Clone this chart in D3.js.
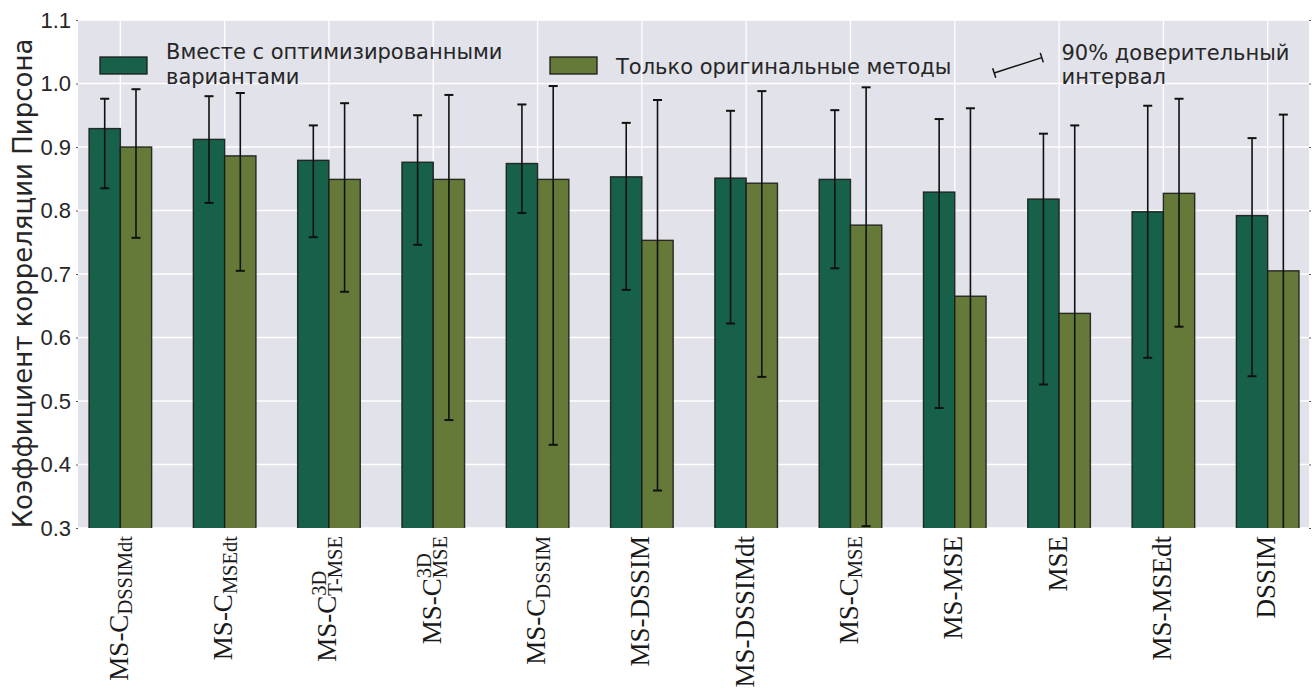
<!DOCTYPE html>
<html>
<head>
<meta charset="utf-8">
<script src="https://cdn.jsdelivr.net/npm/d3@7"></script>
<style>
  html, body { margin: 0; padding: 0; background: #ffffff; }
  svg { display: block; }
</style>
</head>
<body>
<svg id="chart" width="1315" height="693"></svg>
<script>
// Category labels: main part, superscript and subscript (rendered in serif).
const labelMain = ["MS-C", "MS-C", "MS-C", "MS-C", "MS-C", "MS-DSSIM", "MS-DSSIMdt", "MS-C", "MS-MSE", "MSE", "MS-MSEdt", "DSSIM"];
const labelSup  = ["", "", "3D", "3D", "", "", "", "", "", "", "", ""];
const labelSub  = ["DSSIMdt", "MSEdt", "T-MSE", "MSE", "DSSIM", "", "", "MSE", "", "", "", ""];

// Pearson correlation, methods together with their optimized variants
const withOpt   = [0.929, 0.912, 0.879, 0.876, 0.874, 0.853, 0.851, 0.849, 0.829, 0.818, 0.798, 0.792];
const withOptLo = [0.835, 0.812, 0.758, 0.746, 0.796, 0.675, 0.622, 0.709, 0.489, 0.526, 0.568, 0.539];
const withOptHi = [0.976, 0.980, 0.934, 0.950, 0.967, 0.938, 0.957, 0.958, 0.944, 0.921, 0.965, 0.914];

// Pearson correlation, original methods only
const origOnly  = [0.900, 0.886, 0.849, 0.849, 0.849, 0.753, 0.843, 0.777, 0.665, 0.638, 0.827, 0.705];
const origLo    = [0.757, 0.705, 0.672, 0.470, 0.431, 0.359, 0.538, 0.303, 0.270, 0.260, 0.617, 0.250];
const origHi    = [0.991, 0.985, 0.969, 0.982, 0.996, 0.974, 0.988, 0.994, 0.961, 0.934, 0.976, 0.951];

const yTicks = [0.3, 0.4, 0.5, 0.6, 0.7, 0.8, 0.9, 1.0, 1.1];

const seriesNames = ["Вместе с оптимизированными\nвариантами", "Только оригинальные методы"];
const ciLabel = "90% доверительный\nинтервал";
const yTitle = "Коэффициент корреляции Пирсона";

const colDark = "#17614a";
const colOlive = "#657a38";
const textCol = "#262626";
const sans = "'Liberation Sans', Arial, sans-serif";
const textSans = "'DejaVu Sans', sans-serif";
const serif = "'Liberation Serif', 'Times New Roman', serif";

const svg = d3.select("#chart");
const plotL = 78, plotR = 1309, plotT = 20, plotB = 528;

const idx = d3.range(labelMain.length);
const x = d3.scaleLinear().domain([-0.406, 11.396]).range([plotL, plotR]);
const y = d3.scaleLinear().domain([0.3, 1.1]).range([plotB, plotT]);
const barW = 0.3;

// plot background
svg.append("rect").attr("x", plotL).attr("y", plotT)
  .attr("width", plotR - plotL).attr("height", plotB - plotT)
  .attr("fill", "#e2e2ea");

svg.append("defs").append("clipPath").attr("id", "plotClip")
  .append("rect").attr("x", plotL).attr("y", plotT)
  .attr("width", plotR - plotL).attr("height", plotB - plotT);

// grid
const grid = svg.append("g").attr("stroke", "#ffffff").attr("stroke-width", 1.3);
grid.selectAll("line.h").data(yTicks).join("line").attr("class", "h")
  .attr("x1", plotL).attr("x2", plotR)
  .attr("y1", d => y(d)).attr("y2", d => y(d));
grid.selectAll("line.v").data(idx).join("line").attr("class", "v")
  .attr("x1", d => x(d)).attr("x2", d => x(d))
  .attr("y1", plotT).attr("y2", plotB);

const plot = svg.append("g").attr("clip-path", "url(#plotClip)");

// bars
function drawBars(vals, offset, color) {
  plot.append("g").selectAll("rect").data(idx).join("rect")
    .attr("x", i => x(i + offset))
    .attr("width", x(barW) - x(0))
    .attr("y", i => y(vals[i]))
    .attr("height", i => y(0.2) - y(vals[i]))
    .attr("fill", color)
    .attr("stroke", "#1b1b1b")
    .attr("stroke-opacity", 0.9)
    .attr("stroke-width", 1.4);
}
drawBars(withOpt, -barW, colDark);
drawBars(origOnly, 0, colOlive);

// error bars
function drawErr(lo, hi, offset) {
  const g = plot.append("g").attr("stroke", "#111").attr("stroke-width", 1.6);
  const cap = 4.5;
  idx.forEach(i => {
    const cx = x(i + offset);
    g.append("line").attr("x1", cx).attr("x2", cx).attr("y1", y(lo[i])).attr("y2", y(hi[i]));
    g.append("line").attr("x1", cx - cap).attr("x2", cx + cap).attr("y1", y(hi[i])).attr("y2", y(hi[i])).attr("stroke-width", 2);
    g.append("line").attr("x1", cx - cap).attr("x2", cx + cap).attr("y1", y(lo[i])).attr("y2", y(lo[i])).attr("stroke-width", 2);
  });
}
drawErr(withOptLo, withOptHi, -barW / 2);
drawErr(origLo, origHi, barW / 2);

// y axis (left, with labels) and small ticks on the right
const yAxis = svg.append("g").attr("transform", `translate(${plotL},0)`)
  .call(d3.axisLeft(y).tickValues(yTicks).tickFormat(d3.format(".1f")).tickSize(2).tickPadding(5));
yAxis.select(".domain").remove();
yAxis.selectAll(".tick line").attr("stroke", "#555").attr("stroke-width", 1);
yAxis.selectAll(".tick text").attr("fill", textCol).attr("font-family", sans).attr("font-size", 22);

const yAxisR = svg.append("g").attr("transform", `translate(${plotR},0)`)
  .call(d3.axisRight(y).tickValues(yTicks).tickFormat("").tickSize(2));
yAxisR.select(".domain").remove();
yAxisR.selectAll(".tick line").attr("stroke", "#555").attr("stroke-width", 1);

// y title
svg.append("text")
  .attr("transform", `translate(32,283.5) rotate(-90)`)
  .attr("text-anchor", "middle")
  .attr("font-family", textSans).attr("font-size", 26)
  .attr("fill", textCol)
  .text(yTitle);

// x category labels, rotated, with sub/superscripts
const mainSize = 27, smallSize = 20.5;
idx.forEach(i => {
  const outer = svg.append("g").attr("transform", `translate(${x(i)},${536}) rotate(-90)`);
  const inner = outer.append("g");
  const t = inner.append("text").attr("x", 0).attr("y", 0)
    .attr("font-family", serif).attr("font-size", mainSize).attr("fill", "#1a1a1a")
    .text(labelMain[i]);
  const w = t.node().getComputedTextLength();
  let extra = 0;
  const both = labelSup[i] && labelSub[i];
  if (labelSup[i]) {
    const s = inner.append("text").attr("x", w).attr("y", -10)
      .attr("font-family", serif).attr("font-size", smallSize).attr("fill", "#1a1a1a")
      .text(labelSup[i]);
    extra = Math.max(extra, s.node().getComputedTextLength());
  }
  if (labelSub[i]) {
    const s = inner.append("text").attr("x", w).attr("y", both ? 6 : 4.5)
      .attr("font-family", serif).attr("font-size", smallSize).attr("fill", "#1a1a1a")
      .text(labelSub[i]);
    extra = Math.max(extra, s.node().getComputedTextLength());
  }
  inner.attr("transform", `translate(${-(w + extra)},7.5)`);
});

// legend
function legendEntry(px, color, label) {
  svg.append("rect").attr("x", px).attr("y", 57).attr("width", 47).attr("height", 17)
    .attr("fill", color).attr("stroke", "#1b1b1b").attr("stroke-width", 1.3);
  const lines = label.split("\n");
  const t = svg.append("text").attr("font-family", textSans).attr("font-size", 21).attr("fill", textCol);
  lines.forEach((ln, k) => {
    t.append("tspan").attr("x", px + 66)
      .attr("y", lines.length > 1 ? 58.5 + k * 25 : 73.5)
      .text(ln);
  });
}
legendEntry(100, colDark, seriesNames[0]);
legendEntry(550, colOlive, seriesNames[1]);

// confidence interval legend symbol
const ci = svg.append("g").attr("transform", "translate(1018,65.3) rotate(-17.9)")
  .attr("stroke", "#111").attr("stroke-width", 1.5);
ci.append("line").attr("x1", -25).attr("x2", 25).attr("y1", 0).attr("y2", 0);
ci.append("line").attr("x1", -25).attr("x2", -25).attr("y1", -5).attr("y2", 5);
ci.append("line").attr("x1", 25).attr("x2", 25).attr("y1", -5).attr("y2", 5);
const ciText = svg.append("text").attr("font-family", textSans).attr("font-size", 21).attr("fill", textCol);
ciLabel.split("\n").forEach((ln, k) => {
  ciText.append("tspan").attr("x", 1061.5).attr("y", 60 + k * 23.5).text(ln);
});
</script>
</body>
</html>
